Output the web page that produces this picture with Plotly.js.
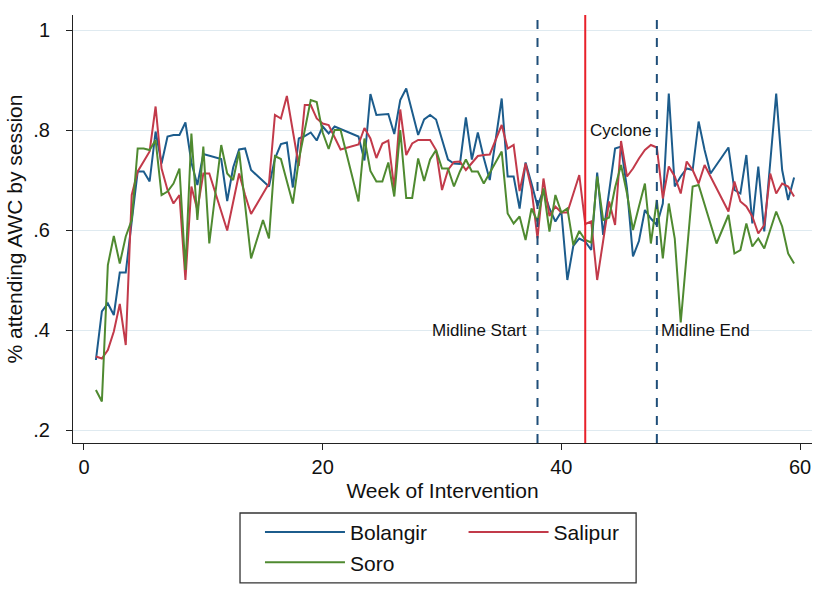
<!DOCTYPE html>
<html>
<head>
<meta charset="utf-8">
<script src="https://cdn.plot.ly/plotly-3.0.1.min.js"></script>
<style>
html,body{margin:0;padding:0;background:#fff;}
#chart{width:828px;height:605px;}
</style>
</head>
<body>
<div id="chart"></div>
<script>
// ---- data ----
const seriesNames = ["Bolangir", "Salipur", "Soro"];

const bolangirWeeks = [1,1.5,2,2.5,3,3.5,4,4.5,5,5.5,6,6.5,7,7.5,8,8.5,9,9.5,10,
  11.5,12,12.5,13,13.5,14,
  15.5,16,16.5,17,17.5,18,18.5,19,19.5,20,20.5,21,
  23,23.5,24,24.5,
  25.5,26,26.5,27,
  28,28.5,29,29.5,
  30.5,31,31.5,32,32.5,33,33.5,34,
  35,35.5,36,36.5,37,37.5,38,38.5,39,39.5,40,40.5,41,41.5,42,42.5,43,43.5,44,44.5,45,45.5,46,46.5,47,47.5,48,48.5,49,49.5,50,50.5,51,51.5,52,52.5,
  54,54.5,55,55.5,56,56.5,57,
  58,58.5,59,59.5];
const bolangirShare = [.34,.437,.453,.43,.515,.515,.617,.717,.717,.697,.797,.733,.787,.79,.79,.815,.735,.69,.752,
  .742,.658,.725,.761,.763,.72,
  .687,.743,.772,.775,.685,.783,.788,.795,.779,.807,.793,.807,
  .787,.739,.872,.83,
  .832,.792,.86,.883,
  .79,.821,.83,.821,
  .741,.733,.732,.825,.741,.795,.744,.70,
  .863,.707,.707,.643,.735,.693,.648,.68,.643,.617,.637,.50,.568,.583,.577,.56,.715,.59,.68,.763,.767,.683,.547,.578,.64,.623,.61,.653,.873,.687,.707,.723,.72,.817,.76,.713,
  .765,.68,.673,.75,.613,.727,.597,
  .873,.72,.66,.705];

const salipurWeeks = [1,1.5,2,2.5,3,3.5,4,4.5,5,5.5,6,6.5,7,7.5,8,8.5,9,9.5,10,10.5,
  12,13,13.5,14,
  15.5,16,16.5,17,
  18,18.5,19,19.5,20,20.5,
  21.5,
  23,23.5,24,24.5,25,25.5,26,26.5,27,27.5,28,
  29,29.5,30,30.5,31,31.5,32,32.5,33,33.5,34,
  35,35.5,36,36.5,37,37.5,38,38.5,39,39.5,40,40.5,
  41.5,42,42.5,43,43.5,44,44.5,45,45.5,46,46.5,47,47.5,48,48.5,49,49.5,50,50.5,51,51.5,52,
  54,54.5,55,55.5,56,56.5,57,57.5,58,58.5,59,59.5];
const salipurShare = [.347,.343,.36,.397,.452,.37,.67,.717,.737,.757,.847,.723,.68,.653,.67,.50,.687,.64,.713,.713,
  .599,.713,.67,.632,
  .693,.83,.823,.868,
  .728,.85,.85,.823,.813,.81,
  .761,
  .771,.804,.783,.744,.773,.779,.683,.841,.75,.773,.78,
  .78,.76,.68,.72,.736,.737,.72,.735,.748,.75,.751,
  .81,.763,.77,.678,.733,.682,.583,.703,.628,.647,.635,.635,
  .71,.612,.617,.50,.578,.657,.61,.778,.707,.723,.743,.76,.77,.765,.663,.727,.707,.673,.737,.72,.693,.73,
  .637,.697,.657,.647,.627,.593,.61,.713,.673,.693,.687,.667];

const soroWeeks = [1,1.5,2,2.5,3,3.5,4,4.5,5,5.5,6,6.5,7,7.5,8,8.5,9,9.5,10,10.5,
  11.5,12,12.5,13,
  14,
  15,15.5,16,16.5,
  17.5,18,18.5,19,19.5,20,20.5,21,21.5,
  23,23.5,24,24.5,25,25.5,26,26.5,27,27.5,28,28.5,29,29.5,30,30.5,31,31.5,32,32.5,33,33.5,
  35,35.5,36,36.5,37,37.5,38,38.5,39,39.5,40,40.5,41,41.5,42,42.5,43,43.5,44,44.5,45,45.5,46,46.5,47,47.5,48,48.5,49,49.5,50,
  51,51.5,
  53,
  54,54.5,55,55.5,56,56.5,57,
  58,58.5,59,59.5];
const soroShare = [.28,.257,.53,.588,.533,.587,.62,.763,.763,.76,.78,.67,.677,.693,.723,.52,.793,.62,.767,.573,
  .77,.713,.70,.757,
  .543,
  .62,.583,.748,.742,
  .653,.74,.797,.86,.856,.795,.762,.80,.80,
  .657,.783,.718,.697,.697,.735,.667,.80,.664,.664,.743,.698,.741,.76,.723,.723,.687,.717,.741,.717,.717,.693,
  .757,.633,.613,.627,.58,.643,.617,.683,.597,.67,.635,.643,.57,.598,.58,.575,.707,.62,.625,.685,.73,.673,.60,.647,.693,.573,.66,.543,.653,.583,.415,
  .687,.69,
  .573,
  .63,.553,.56,.613,.567,.583,.563,
  .637,.607,.553,.533];

const eventWeeks = [38, 42, 48];
const eventLabels = ["Midline Start", "Cyclone", "Midline End"];
const xTickVals = [0, 20, 40, 60];
const yTickVals = [0.2, 0.4, 0.6, 0.8, 1];
const yTickText = [".2", ".4", ".6", ".8", "1"];

// ---- styling ----
const FONT = "'Liberation Sans', Arial, Helvetica, sans-serif";
const colors = ["#1c5c8c", "#c23a4a", "#4f8a30"];

const traces = [
  {x: bolangirWeeks, y: bolangirShare, name: seriesNames[0], legend: "legend"},
  {x: salipurWeeks, y: salipurShare, name: seriesNames[1], legend: "legend2"},
  {x: soroWeeks, y: soroShare, name: seriesNames[2], legend: "legend"}
].map((t, i) => Object.assign(t, {
  type: "scatter", mode: "lines",
  line: {color: colors[i], width: 2},
  hoverinfo: "skip"
}));

const shapes = [
  {type: "line", xref: "x", yref: "paper", x0: eventWeeks[0], x1: eventWeeks[0], y0: 0, y1: 1,
   line: {color: "#1f4e79", width: 2, dash: "dash"}},
  {type: "line", xref: "x", yref: "paper", x0: eventWeeks[1], x1: eventWeeks[1], y0: 0, y1: 1,
   line: {color: "#e8202a", width: 2}},
  {type: "line", xref: "x", yref: "paper", x0: eventWeeks[2], x1: eventWeeks[2], y0: 0, y1: 1,
   line: {color: "#1f4e79", width: 2, dash: "dash"}},
  // legend frame
  {type: "rect", xref: "paper", yref: "paper", x0: 0.226, x1: 0.762, y0: -0.327, y1: -0.1636,
   line: {color: "#333", width: 1.3}, fillcolor: "rgba(0,0,0,0)"}
];

const annotations = [
  {x: eventWeeks[0] - 0.75, y: 0.4, xref: "x", yref: "y", text: eventLabels[0], showarrow: false,
   xanchor: "right", yanchor: "middle", font: {family: FONT, size: 17, color: "#111"}},
  {x: eventWeeks[1] + 0.2, y: 0.8, xref: "x", yref: "y", text: eventLabels[1], showarrow: false,
   xanchor: "left", yanchor: "middle", font: {family: FONT, size: 17, color: "#111"}},
  {x: eventWeeks[2] + 0.2, y: 0.4, xref: "x", yref: "y", text: eventLabels[2], showarrow: false,
   xanchor: "left", yanchor: "middle", font: {family: FONT, size: 17, color: "#111"}}
];

const legendCommon = {
  orientation: "v", xanchor: "left", yanchor: "top",
  bgcolor: "rgba(0,0,0,0)", borderwidth: 0, itemwidth: 80,
  font: {family: FONT, size: 21, color: "#111"}
};

const layout = {
  width: 828, height: 605,
  margin: {l: 73, r: 16, t: 15, b: 162},
  paper_bgcolor: "#fff", plot_bgcolor: "#fff",
  font: {family: FONT, color: "#111"},
  showlegend: true,
  legend: Object.assign({x: 0.253, y: -0.161}, legendCommon),
  legend2: Object.assign({x: 0.5285, y: -0.161}, legendCommon),
  xaxis: {
    range: [-0.92, 61.0], tickvals: xTickVals, ticks: "outside", ticklen: 6, tickcolor: "#222",
    showline: true, linecolor: "#222", linewidth: 1, showgrid: false, zeroline: false,
    tickfont: {family: FONT, size: 20, color: "#111"},
    title: {text: "Week of Intervention", font: {family: FONT, size: 21, color: "#111"}, standoff: 6}
  },
  yaxis: {
    range: [0.174, 1.03], tickvals: yTickVals, ticktext: yTickText, ticks: "outside", ticklen: 6, tickcolor: "#222",
    tickangle: 0, ticklabelstandoff: 12,
    showline: true, linecolor: "#222", linewidth: 1, showgrid: true, gridcolor: "#dfeaf0", gridwidth: 1,
    zeroline: false,
    tickfont: {family: FONT, size: 20, color: "#111"},
    title: {text: "% attending AWC by session", font: {family: FONT, size: 21, color: "#111"}, standoff: 4}
  },
  shapes: shapes,
  annotations: annotations
};

Plotly.newPlot("chart", traces, layout, {displayModeBar: false, staticPlot: true});
</script>
</body>
</html>
